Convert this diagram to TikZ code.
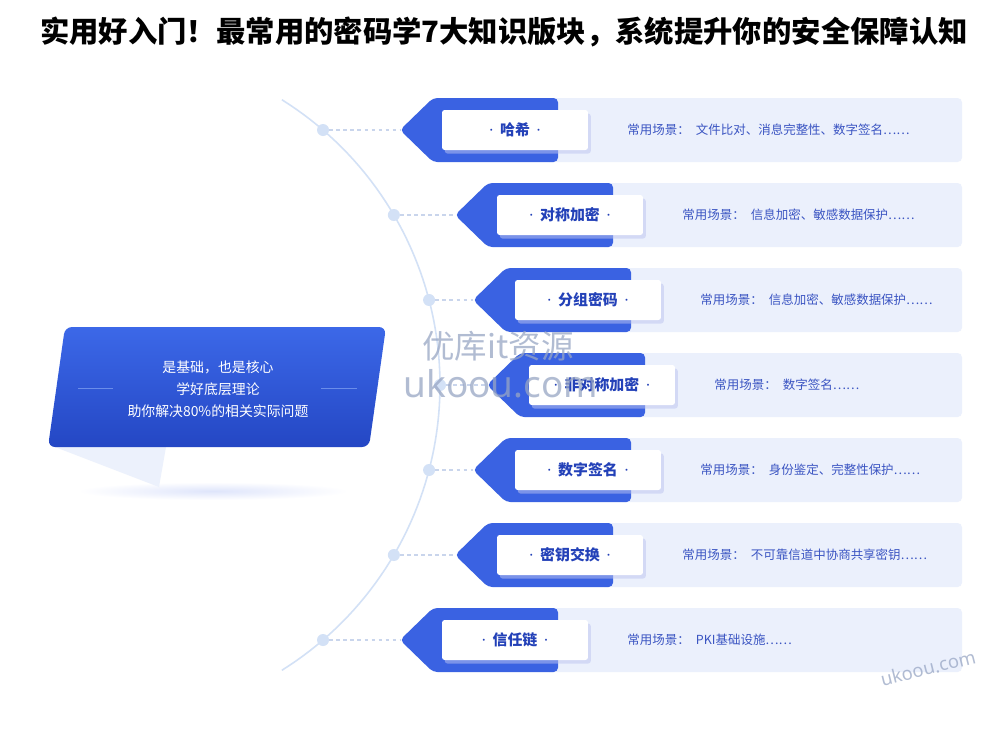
\documentclass[tikz,border=0pt]{standalone}
\usepackage{fontspec}
\setmainfont{Noto Sans CJK SC}
\newfontfamily\latinwm{Noto Sans}
\usetikzlibrary{calc,shadows}
\definecolor{arrowblue}{HTML}{3A62E2}
\definecolor{boxtop}{HTML}{3C68E8}
\definecolor{boxbot}{HTML}{2447C4}
\definecolor{lightbg}{HTML}{EBF0FC}
\definecolor{labelblue}{HTML}{2341B8}
\definecolor{scenecol}{HTML}{3A54C2}
\definecolor{arccol}{HTML}{D3E1F6}
\definecolor{dashcol}{HTML}{C9D5EC}
\definecolor{shadowc}{HTML}{BCC4F0}
\definecolor{tailcol}{HTML}{ECF1FC}
\definecolor{sepcol}{HTML}{6A8DEA}
\definecolor{wmcol}{HTML}{98A6C4}
\newcommand{\mdot}{{\latinwm\mdseries ·}}
\tikzset{
  titletext/.style={font=\bfseries\fontsize{16.7}{20}\selectfont, text=black},
  lightpanel/.style={fill=lightbg, rounded corners=2.5pt},
  bluearrow/.style={fill=arrowblue, rounded corners=2.5pt},
  labelbox/.style={fill=white, rounded corners=1.5pt, minimum width=2.92cm, minimum height=0.8cm, inner sep=0pt,
    font=\bfseries\fontsize{8.5}{10}\selectfont, text=labelblue,
    drop shadow={shadow xshift=1.6pt, shadow yshift=-2pt, fill=shadowc, opacity=.5}},
  scenetext/.style={anchor=west, inner sep=0pt, font=\fontsize{7.1}{9}\selectfont, text=scenecol},
  arcdot/.style={circle, fill=arccol, minimum size=0.24cm, inner sep=0pt},
  dashline/.style={draw=dashcol, line width=0.6pt, dash pattern=on 2pt off 2pt},
  arcline/.style={draw=arccol, line width=0.9pt},
  coretext/.style={align=center, text=white, font=\fontsize{7.9}{12.5}\selectfont, inner sep=0pt},
  sepline/.style={draw=sepcol, line width=0.5pt},
  wmtext/.style={text=wmcol, opacity=0.75, inner sep=0pt},
}
\begin{document}
\begin{tikzpicture}[x=0.02cm,y=-0.02cm]
\fill[white] (0,0) rectangle (1000,728);
\useasboundingbox (0,0) rectangle (1000,728);

% title
\node[titletext] (title) at (504,32) {实用好入门！最常用的密码学7大知识版块，系统提升你的安全保障认知};

% arc
\draw[arcline] plot[domain=-58:58, samples=80] ({103.6+336.4*cos(\x)},{385+336.4*sin(\x)});

% left core box: tail and glow
\shade[inner color=arccol!90!blue!50, outer color=white] (213,491) ellipse [x radius=135, y radius=9];
\fill[tailcol] (55,447) -- (166,447) -- (159,487) -- cycle;
\shade[top color=boxtop, bottom color=boxbot, rounded corners=4pt]
  (65,327) -- (386,327) -- (369,447) -- (48,447) -- cycle;
\node[coretext] (core) at (218,389) {是基础，也是核心\\学好底层理论\\助你解决80\%的相关实际问题};
\draw[sepline] (78,388) -- (113,388);
\draw[sepline] (321,388) -- (357,388);

% rows
\foreach \i/\yy/\dx/\lab/\sc in {
  1/130/0/哈希/文件比对、消息完整性、数字签名……,
  2/215/55/对称加密/信息加密、敏感数据保护……,
  3/300/73/分组密码/信息加密、敏感数据保护……,
  4/385/87/非对称加密/数字签名……,
  5/470/73/数字签名/身份鉴定、完整性保护……,
  6/555/55/密钥交换/不可靠信道中协商共享密钥……,
  7/640/0/信任链/PKI基础设施……}{
  \pgfmathsetmacro\dotx{103.6+100*sqrt(3.364*3.364-((\yy-385)/100)*((\yy-385)/100))}
  \fill[lightpanel] (545+\dx,\yy-32) rectangle (962,\yy+32);
  \fill[bluearrow] (558+\dx,\yy-32) -- (433+\dx,\yy-32) -- (400+\dx,\yy) -- (433+\dx,\yy+32) -- (558+\dx,\yy+32) -- cycle;
  \coordinate (tip\i) at (400+\dx,\yy);
  \node[arcdot] (dot\i) at (\dotx,\yy) {};
  \draw[dashline] (dot\i) -- (tip\i);
  \node[labelbox] (lab\i) at (515+\dx,\yy) {\mdot\hspace{0.45em}\lab\hspace{0.45em}\mdot};
  \node[scenetext] (sc\i) at (627+\dx,\yy) {常用场景：\hspace{0.5em}\sc};
}

% watermarks
\node[wmtext, font=\fontsize{18.5}{20}\selectfont] (wm1) at (498,346) {优库it资源};
\node[wmtext, font=\latinwm\fontsize{21}{24}\selectfont] (wm2) at (501,384) {ukoou.com};
\node[wmtext, rotate=14, font=\latinwm\fontsize{10.5}{12}\selectfont] (wm3) at (928,668) {ukoou.com};
\end{tikzpicture}
\end{document}
